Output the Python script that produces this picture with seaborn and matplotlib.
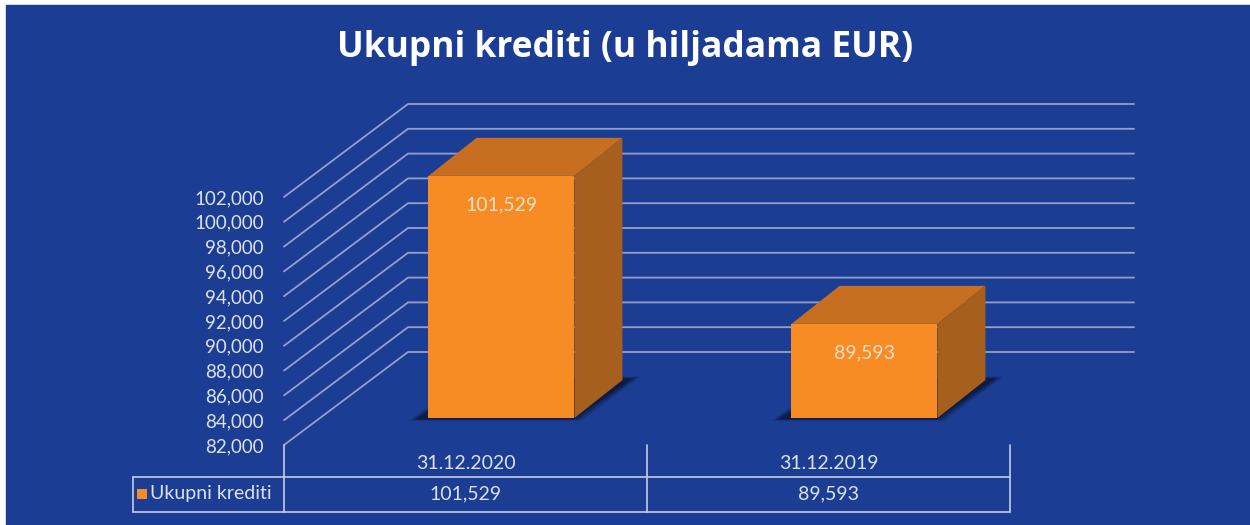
import pandas as pd
import seaborn as sns
import matplotlib.pyplot as plt
from matplotlib.patches import Polygon, Rectangle
from matplotlib.ticker import FuncFormatter

# podaci
categories = ['31.12.2020', '31.12.2019']
values = [101529, 89593]
series_name = 'Ukupni krediti'
title = 'Ukupni krediti (u hiljadama EUR)'
y_ticks = list(range(82000, 102001, 2000))

BLUE = '#1B3D94'
ORANGE = '#F78B24'
TOP = '#C76E20'
SIDE = '#A65F1C'
GRID = '#93A1C8'
TXT = '#DCE1EC'

sns.set_theme(style='white')
plt.rcParams['font.family'] = ['Lato', 'DejaVu Sans']

W, H = 1250, 525
fig = plt.figure(figsize=(W / 100, H / 100), dpi=100)
fig.patch.set_facecolor('white')
fig.patches.append(Rectangle((6 / W, 0), 1 - 6 / W, 1 - 5 / H, transform=fig.transFigure,
                             color=BLUE, zorder=-10))

# prednja ravan 3d kutije (u pikselima)
x0, x1, yb, yt = 284, 1010, 445, 197
ax = fig.add_axes([x0 / W, 1 - yb / H, (x1 - x0) / W, (yb - yt) / H])
ax.set_facecolor('none')

df = pd.DataFrame({'datum': categories, 'iznos': values})
sns.barplot(data=df, x='datum', y='iznos', color=ORANGE, width=0.402, saturation=1,
            ax=ax, zorder=5)
ax.set_xlim(-0.5, 1.5)
ax.set_ylim(y_ticks[0], y_ticks[-1])

# pikseli -> jedinice podataka
px_x = (x1 - x0) / len(categories)
px_y = (yb - yt) / (y_ticks[-1] - y_ticks[0])
depth = (124 / px_x, 93 / px_y)          # dubina zida
plane = (0.29 * depth[0], 0.29 * depth[1])  # ravan stubaca
bdx, bdy = 48 / px_x, 38 / px_y           # dubina samog stupca

# zadnji zid i linije mreze
for v in y_ticks:
    ax.plot([-0.5, -0.5 + depth[0], 1.5 + depth[0]], [v, v + depth[1], v + depth[1]],
            color=GRID, lw=1.3, clip_on=False, zorder=1)

# 3d stupci
for p, v in zip(ax.patches, values):
    x = p.get_x() + plane[0]
    w = p.get_width()
    bottom = y_ticks[0] + plane[1]
    top = v + plane[1]
    p.set_x(x)
    p.set_y(bottom)
    p.set_height(top - bottom)
    p.set_clip_on(False)
    p.set_edgecolor('none')

    # sjena
    for grow, a in [(0.02, 0.2), (0.01, 0.35), (0.0, 0.6)]:
        gy = grow * 6000
        shadow = [(x - 0.035 - grow, bottom - 100 - gy), (x + w + grow, bottom - 100 - gy),
                  (x + w + bdx + 0.03 + grow, bottom + bdy + 150 + gy),
                  (x + bdx - grow, bottom + bdy + 150 + gy)]
        ax.add_patch(Polygon(shadow, closed=True, color='#0A1433', alpha=a, lw=0,
                             clip_on=False, zorder=3))

    ax.add_patch(Polygon([(x, top), (x + w, top), (x + w + bdx, top + bdy), (x + bdx, top + bdy)],
                         closed=True, color=TOP, lw=0, clip_on=False, zorder=6))
    ax.add_patch(Polygon([(x + w, bottom), (x + w, top), (x + w + bdx, top + bdy),
                          (x + w + bdx, bottom + bdy)],
                         closed=True, color=SIDE, lw=0, clip_on=False, zorder=6))
    ax.text(x + w / 2, top - 29 / px_y, f'{v:,}', ha='center', va='center',
            color='#F3DFCC', fontsize=14, zorder=7)

# osi
for s in ax.spines.values():
    s.set_visible(False)
ax.set_yticks(y_ticks)
ax.yaxis.set_major_formatter(FuncFormatter(lambda v, _: f'{int(v):,}'))
ax.tick_params(axis='y', length=0, pad=14.4, colors=TXT, labelsize=13.5)
ax.tick_params(axis='x', length=0, pad=7, colors=TXT, labelsize=14)
ax.set_xlabel('')
ax.set_ylabel('')

# tabela podataka
trans = ax.get_xaxis_transform()
fy = lambda py: (yb - py) / (yb - yt)
x_leg = -0.5 - (x0 - 133) / px_x
lc = '#C5CCE0'
for yy in [fy(477), fy(512)]:
    ax.plot([x_leg, 1.5], [yy, yy], color=lc, lw=1.2, transform=trans, clip_on=False)
for xx in [-0.5, 0.5, 1.5]:
    ax.plot([xx, xx], [0, fy(512)], color=lc, lw=1.2, transform=trans, clip_on=False)
ax.plot([x_leg, x_leg], [fy(477), fy(512)], color=lc, lw=1.2, transform=trans, clip_on=False)

for i, v in enumerate(values):
    ax.text(i, fy(494), f'{v:,}', transform=trans, ha='center', va='center',
            color=TXT, fontsize=14)
ax.add_patch(Rectangle((x_leg + 4 / px_x, fy(499)), 10 / px_x, 10 / (yb - yt),
                       transform=trans, color=ORANGE, lw=0, clip_on=False))
ax.text(x_leg + 17 / px_x, fy(494), series_name, transform=trans, ha='left', va='center',
        color=TXT, fontsize=14)

fig.text(0.5, 1 - 48 / H, title, ha='center', va='center', fontsize=25.5,
         fontweight='bold', color='white', family=['Open Sans', 'DejaVu Sans'])

fig.savefig('out.png', dpi=100)
